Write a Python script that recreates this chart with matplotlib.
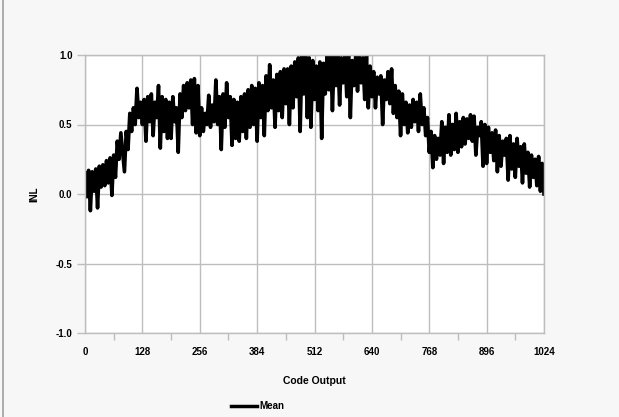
import numpy as np
import matplotlib
matplotlib.use("Agg")
import matplotlib.pyplot as plt
from matplotlib.lines import Line2D

# INL readings, one every 4 codes (0 .. 1024)
code_step = 4
inl = [
    0.15, -0.02, 0.17, -0.12, 0.16, 0.02, 0.18, -0.10, 0.20, 0.05, 0.21, 0.06, 0.24, 0.08, 0.26, -0.01,
    0.28, 0.12, 0.38, 0.25, 0.44, 0.30, 0.16, 0.45, 0.32, 0.58, 0.45, 0.62, 0.50, 0.76, 0.55, 0.66,
    0.50, 0.68, 0.38, 0.70, 0.52, 0.72, 0.42, 0.66, 0.55, 0.78, 0.33, 0.70, 0.45, 0.68, 0.40, 0.66,
    0.40, 0.70, 0.52, 0.62, 0.30, 0.72, 0.55, 0.78, 0.60, 0.80, 0.62, 0.82, 0.50, 0.83, 0.44, 0.78,
    0.42, 0.62, 0.45, 0.58, 0.50, 0.71, 0.48, 0.64, 0.52, 0.82, 0.50, 0.70, 0.32, 0.72, 0.48, 0.80,
    0.55, 0.70, 0.35, 0.68, 0.40, 0.66, 0.38, 0.70, 0.45, 0.72, 0.40, 0.75, 0.48, 0.78, 0.50, 0.76,
    0.38, 0.80, 0.55, 0.78, 0.42, 0.85, 0.60, 0.93, 0.62, 0.82, 0.48, 0.86, 0.60, 0.88, 0.55, 0.90,
    0.65, 0.90, 0.50, 0.92, 0.62, 0.95, 0.70, 0.98, 0.45, 1.00, 0.72, 1.00, 0.55, 0.98, 0.48, 0.96,
    0.68, 0.92, 0.60, 0.95, 0.40, 0.94, 0.72, 1.00, 0.75, 1.00, 0.60, 1.00, 0.78, 1.00, 0.64, 0.98,
    0.80, 1.00, 0.70, 1.00, 0.55, 0.96, 0.78, 1.00, 0.74, 1.00, 0.80, 0.98, 0.68, 1.00, 0.62, 0.92,
    0.70, 0.88, 0.62, 0.84, 0.72, 0.85, 0.50, 0.82, 0.68, 0.88, 0.65, 0.90, 0.58, 0.78, 0.55, 0.74,
    0.42, 0.72, 0.50, 0.66, 0.44, 0.64, 0.48, 0.68, 0.52, 0.66, 0.45, 0.72, 0.50, 0.62, 0.42, 0.55,
    0.30, 0.45, 0.19, 0.42, 0.25, 0.40, 0.28, 0.52, 0.22, 0.48, 0.30, 0.57, 0.28, 0.50, 0.32, 0.58,
    0.30, 0.52, 0.34, 0.55, 0.36, 0.54, 0.40, 0.57, 0.38, 0.56, 0.28, 0.48, 0.42, 0.52, 0.20, 0.50,
    0.22, 0.48, 0.30, 0.44, 0.24, 0.46, 0.16, 0.42, 0.20, 0.38, 0.28, 0.40, 0.10, 0.42, 0.18, 0.36,
    0.12, 0.40, 0.20, 0.34, 0.08, 0.36, 0.15, 0.30, 0.05, 0.28, 0.12, 0.25, 0.06, 0.27, 0.02, 0.22,
    0.0,
]
codes = np.arange(len(inl)) * code_step

x_ticks = [0, 128, 256, 384, 512, 640, 768, 896, 1024]
y_ticks = [-1.0, -0.5, 0.0, 0.5, 1.0]

plt.rcParams['font.family'] = ['Liberation Sans', 'DejaVu Sans']
grid_col = '#bdbdbd'

fig = plt.figure(figsize=(6.19, 4.17), dpi=100, facecolor='#f7f7f7')
ax = fig.add_axes([85 / 619, 1 - 333 / 417, 459 / 619, 278 / 417])
ax.set_facecolor('white')

ax.plot(codes, inl, color='black', linewidth=2.6, label='Mean')

ax.set_xlim(0, 1024)
ax.set_ylim(-1.0, 1.0)
ax.set_xticks(x_ticks)
ax.set_xticks(np.arange(64, 1024, 128), minor=True)
ax.set_yticks(y_ticks)
ax.set_yticklabels(['%.1f' % v for v in y_ticks])
ax.grid(True, which='major', color=grid_col, linewidth=1)
ax.tick_params(axis='x', which='major', length=0, pad=10, labelsize=7)
ax.tick_params(axis='x', which='minor', length=5, color=grid_col, width=1)
ax.tick_params(axis='y', which='major', length=6, color=grid_col, width=1, pad=3, labelsize=7)
for lbl in ax.get_xticklabels() + ax.get_yticklabels():
    lbl.set_fontweight('bold')
for s in ax.spines.values():
    s.set_color(grid_col)
    s.set_linewidth(1)

ax.set_xlabel('Code Output', fontsize=7.5, fontweight='bold', labelpad=14)
ax.set_ylabel('INL', fontsize=7, fontweight='bold', labelpad=12)

leg = fig.legend(loc='center', bbox_to_anchor=(258 / 619, 1 - 406 / 417), frameon=False,
                 fontsize=7, handlelength=2.6, handletextpad=0.3)
for t in leg.get_texts():
    t.set_fontweight('bold')
for h in leg.legend_handles:
    h.set_linewidth(2.5)

# thin frame line on the left edge of the picture
fig.add_artist(Line2D([3 / 619, 3 / 619], [0, 1], color='#a0a0a0', linewidth=1.2,
                      transform=fig.transFigure))

fig.savefig('out.png', dpi=100, facecolor=fig.get_facecolor())
